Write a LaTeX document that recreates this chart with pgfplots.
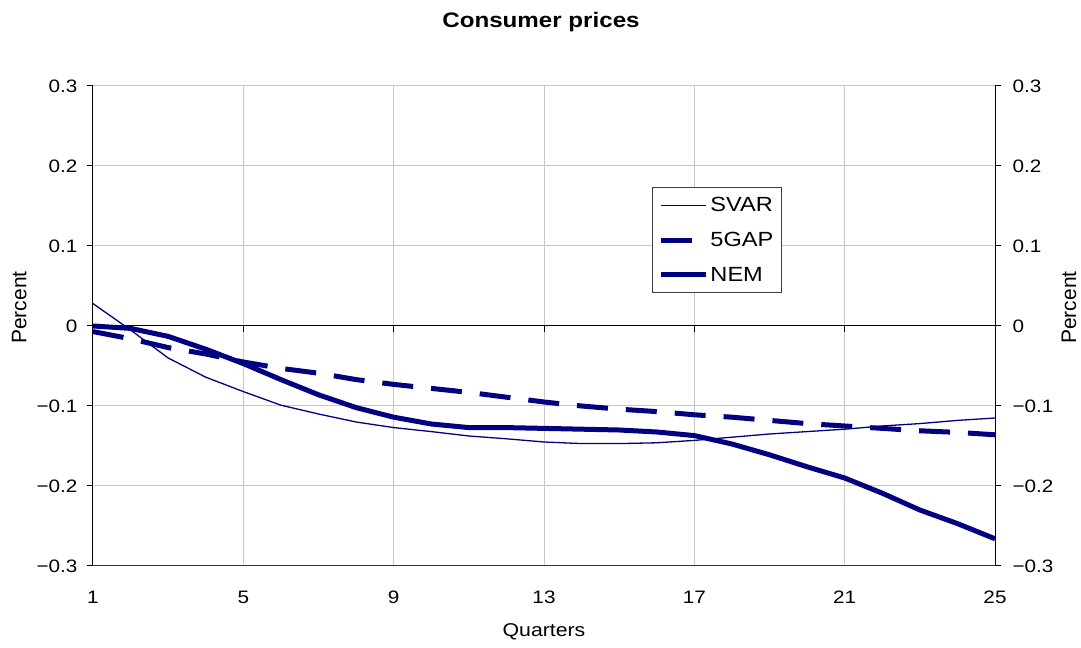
\documentclass[border=0pt]{standalone}
\usepackage{fontspec}
\setmainfont{Liberation Sans}[FakeStretch=1.15]
\newfontfamily\plainsans{Liberation Sans}
\usepackage{pgfplots}
\usepackage{pgfplotstable}
\pgfplotsset{compat=1.18}
\definecolor{navy}{RGB}{0,0,128}
\definecolor{gridgray}{RGB}{200,200,200}

\pgfplotstableread{
q svar gap nem
1 0.028 -0.007 0.000
2 -0.005 -0.016 -0.003
3 -0.040 -0.027 -0.013
4 -0.064 -0.035 -0.029
5 -0.082 -0.045 -0.047
6 -0.099 -0.053 -0.067
7 -0.110 -0.059 -0.086
8 -0.120 -0.067 -0.102
9 -0.127 -0.073 -0.114
10 -0.132 -0.078 -0.1225
11 -0.1375 -0.083 -0.127
12 -0.141 -0.089 -0.127
13 -0.145 -0.095 -0.128
14 -0.147 -0.100 -0.129
15 -0.147 -0.104 -0.130
16 -0.146 -0.107 -0.1325
17 -0.143 -0.111 -0.137
18 -0.139 -0.114 -0.1475
19 -0.135 -0.118 -0.161
20 -0.132 -0.122 -0.176
21 -0.129 -0.125 -0.190
22 -0.125 -0.128 -0.209
23 -0.122 -0.131 -0.230
24 -0.118 -0.133 -0.247
25 -0.115 -0.136 -0.266
}\data

\pgfplotsset{
  base/.style={
    scale only axis, width=902pt, height=480pt,
    xmin=1, xmax=25, ymin=-0.3, ymax=0.3,
    xtick={1,5,...,25},
    ytick={-0.3,-0.2,-0.1,0,0.1,0.2,0.3},
    yticklabels={−0.3,−0.2,−0.1,0,0.1,0.2,0.3},
    /pgf/number format/assume math mode=true,
    tick label style={font=\fontsize{18}{21}\selectfont},
    major tick length=6pt,
    every tick/.style={black, line width=1pt},
    clip=false,
  }
}

\begin{document}
\begin{tikzpicture}
% grid, left axis, bottom labels
\begin{axis}[base,
  axis x line*=bottom, axis y line*=left,
  x axis line style={draw=black!80, line width=1pt},
  y axis line style={draw=black, line width=1pt},
  grid=major, grid style={gridgray, line width=1pt},
  tick align=outside,
  x tick style={draw=none},
  xticklabels={1,5,9,13,17,21,25},
  xticklabel style={anchor=center, yshift=-25.5pt},
  yticklabel style={anchor=east, xshift=-6pt},
  xlabel={Quarters},
  xlabel style={at={(axis description cs:0.5,0)}, anchor=center, yshift=-66pt, font=\fontsize{18.5}{21}\selectfont},
  ylabel={Percent},
  ylabel style={at={(axis description cs:-0.0818,0.5385)}, anchor=center, font=\fontsize{21}{24}\selectfont\plainsans},
  title={Consumer prices},
  title style={at={(axis description cs:0.5,1)}, anchor=center, yshift=58pt, xshift=-3pt, font=\fontsize{21}{24}\selectfont\bfseries},
]
\coordinate (sw) at (rel axis cs:0,0);
\coordinate (ne) at (rel axis cs:1,1);
\addplot[draw=none] coordinates {(1,0)};
\end{axis}
% zero line, right axis, data
\begin{axis}[base,
  axis x line*=middle, axis y line*=right,
  axis line style={draw=black, line width=1pt, -},
  tick align=outside,
  xticklabels={},
  yticklabel style={anchor=west, xshift=8pt},
  ylabel={Percent},
  ylabel style={at={(axis description cs:1.0820,0.5385)}, anchor=center, font=\fontsize{21}{24}\selectfont\plainsans},
  legend style={at={(axis description cs:0.6197,0.7896)}, anchor=north west,
    draw=black!75, line width=1pt, font=\fontsize{20.5}{24}\selectfont,
    inner xsep=6pt, inner ysep=8pt, row sep=15pt,
    nodes={inner sep=2pt}},
  legend cell align=left,
  legend image code/.code={\draw[#1] (0pt,0pt) -- (45pt,0pt);},
]
\addplot[navy, line width=1.3pt] table[x=q, y=svar] {\data};
\addlegendentry{SVAR}
\addplot[navy, line width=5pt, dash pattern=on 31pt off 18pt] table[x=q, y=gap] {\data};
\addlegendentry{5GAP}
\addplot[navy, line width=5pt, line join=round] table[x=q, y=nem] {\data};
\addlegendentry{NEM}
\end{axis}
\pgfresetboundingbox
\path[use as bounding box] ([shift={(-93pt,-82pt)}]sw) rectangle ([shift={(86pt,86pt)}]ne);
\end{tikzpicture}
\end{document}
